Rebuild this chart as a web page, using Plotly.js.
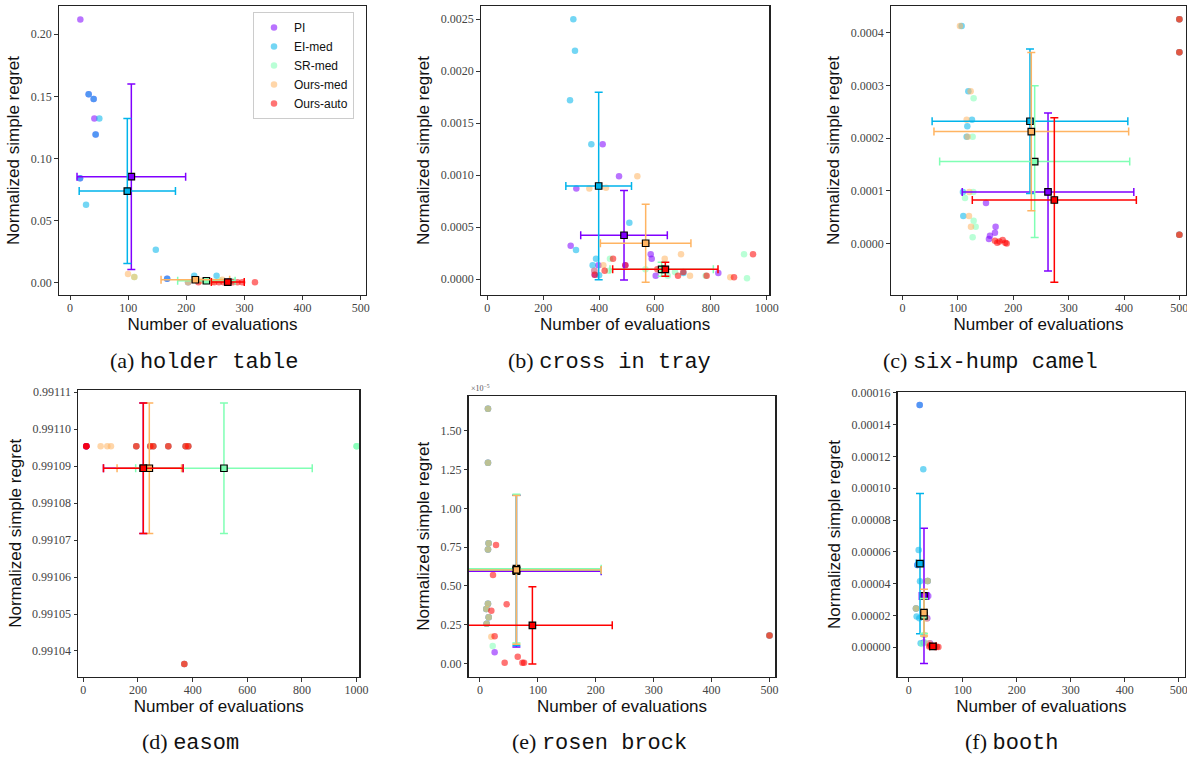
<!DOCTYPE html>
<html><head><meta charset="utf-8">
<script src="https://cdn.plot.ly/plotly-3.0.1.min.js"></script>
<style>html,body{margin:0;padding:0;background:#fff}#chart{width:1187px;height:757px}</style>
</head><body><div id="chart"></div>
<script>
// ---------------- DATA ----------------
const methods = ["PI", "EI-med", "SR-med", "Ours-med", "Ours-auto"];
const methodColors = ["#8000ff", "#00b4eb", "#80ffb4", "#ffb462", "#ff0000"];
const panelNames = ["holder table", "cross in tray", "six-hump camel", "easom", "rosen brock", "booth"];
const panelLetters = ["a", "b", "c", "d", "e", "f"];
const xTitle = "Number of evaluations";
const yTitle = "Normalized simple regret";

// (a) holder table  -- method index: 0 PI, 1 EI-med, 2 SR-med, 3 Ours-med, 4 Ours-auto
const holderX = [17.7, 41.8, 32, 40.6, 44, 17.2, 167, 203, 275,
                 32, 40.6, 44, 17.2, 167, 27.5, 50.4, 147.5, 213.5, 252,
                 110.5, 203, 232, 258, 280,
                 99.7, 110.5, 203, 225, 245, 262,
                 220.7, 248, 256, 264, 280, 288, 296, 318];
const holderY = [0.212, 0.132, 0.1516, 0.1478, 0.1193, 0.0839, 0.003, 0.0, 0.001,
                 0.1516, 0.1478, 0.1193, 0.0839, 0.003, 0.0626, 0.132, 0.0263, 0.0054, 0.0053,
                 0.0043, 0.0, 0.0008, 0.0015, 0.001,
                 0.0067, 0.0043, 0.0, 0.0012, 0.0005, 0.002,
                 0.0, 0.0, 0.0, 0.0, 0.0, 0.0, 0.0, 0.0];
const holderM = [0,0,0,0,0,0,0,0,0, 1,1,1,1,1,1,1,1,1,1, 2,2,2,2,2, 3,3,3,3,3,3, 4,4,4,4,4,4,4,4];
const holderMeanX = [105.4, 98.5, 234.5, 215.5, 271.3];
const holderMeanY = [0.0852, 0.0736, 0.0013, 0.0021, 0.0002];
const holderSdX = [93.4, 82.8, 49.4, 59, 28.3];
const holderSdY = [0.0748, 0.0585, 0.001, 0.0015, 0.0005];

// (b) cross in tray
const crossX = [412.9, 471.4, 318.6, 298.4, 397.5, 383, 384.4, 494, 584.8, 588.4, 602.7, 826.8,
                307.9, 313.8, 296, 372.3, 508.4, 317.5, 389, 377, 702, 400,
                439, 566, 645.7, 671.8, 781.6, 918.8, 929.5, 435,
                537, 365.2, 424.8, 415.3, 635, 693.3, 725.5, 869.7, 383,
                450, 420, 384.4, 494, 608.5, 682.5, 701.5, 785, 883, 951];
const crossY = [0.001297, 0.000989, 0.000871, 0.000323, 0.000134, 0.0000826, 0.0000442, 0.000134, 0.00024, 0.000198, 0.0000346, 0.00006,
                0.002497, 0.002196, 0.001719, 0.001297, 0.000544, 0.000281, 0.000198, 0.000134, 0.00006, 0.0000384,
                0.000198, 0.000096, 0.0000346, 0.00007, 0.0000346, 0.00024, 0.0000096, 0.0000826,
                0.000989, 0.000871, 0.00088, 0.000134, 0.000198, 0.00024, 0.0000346, 0.0000192, 0.0000826,
                0.000198, 0.0000826, 0.0000442, 0.000134, 0.000096, 0.0000346, 0.00007, 0.0000346, 0.0000192, 0.00024];
const crossM = [0,0,0,0,0,0,0,0,0,0,0,0, 1,1,1,1,1,1,1,1,1,1, 2,2,2,2,2,2,2,2, 3,3,3,3,3,3,3,3,3, 4,4,4,4,4,4,4,4,4,4];
const crossMeanX = [489.3, 398.6, 624, 566.8, 637.2];
const crossMeanY = [0.000423, 0.000896, 0.000096, 0.000346, 0.000096];
const crossSdX = [155, 117.5, 185, 162, 188.5];
const crossSdY = [0.00043, 0.0009, 0.000067, 0.000374, 0.000067];

// (c) six-hump camel
const camelX = [150.6, 168, 166.8, 157.8, 156, 500, 500, 500,
                106.6, 118.7, 125.3, 116.9, 115.7, 109, 109.6, 500, 500, 500,
                128.3, 126.5, 127.7, 112.7, 128.3, 132, 126.5, 500, 500, 500,
                103.6, 122.9, 115.7, 117.5, 120.5, 119.9, 123.5, 500, 500, 500,
                166.8, 171, 180.7, 185.5, 188, 175, 500, 500, 500];
const camelY = [0.0000772, 0.0000323, 0.0000209, 0.0000152, 0.0000089, 0.000426, 0.000363, 0.0000171,
                0.000413, 0.000289, 0.000235, 0.000223, 0.000203, 0.0000981, 0.0000525, 0.000426, 0.000363, 0.0000171,
                0.000276, 0.000203, 0.0000981, 0.0000867, 0.0000437, 0.0000323, 0.000012, 0.000426, 0.000363, 0.0000171,
                0.000413, 0.000289, 0.000235, 0.000203, 0.0000981, 0.0000525, 0.0000323, 0.000426, 0.000363, 0.0000171,
                0.0000057, 0.0000019, 0.000007, 0.0000019, 0.0000005, 0.000004, 0.000426, 0.000363, 0.0000171];
const camelM = [0,0,0,0,0,0,0,0, 1,1,1,1,1,1,1,1,1,1, 2,2,2,2,2,2,2,2,2,2, 3,3,3,3,3,3,3,3,3,3, 4,4,4,4,4,4,4,4,4];
const camelMeanX = [262.7, 230.1, 238.6, 232.5, 274.1];
const camelMeanY = [0.0000981, 0.0002323, 0.0001557, 0.0002127, 0.0000829];
const camelSdX = [155, 176.8, 171.7, 175.9, 148.2];
const camelSdY = [0.00015, 0.000137, 0.000144, 0.00015, 0.000156];

// (d) easom
const easomX = [11, 11, 11, 193.9, 245, 256, 311, 374.4, 384, 369.5,
                193.9, 245, 256, 311, 374.4, 384, 369.5, 1000, 1000, 1000,
                63.4, 87.8, 101.2, 193.9, 245, 256, 311, 374.4, 384, 369.5,
                11, 11, 11, 193.9, 245, 256, 311, 374.4, 384, 369.5];
const easomY = [0.9910954, 0.9910954, 0.9910954, 0.9910954, 0.9910954, 0.9910954, 0.9910954, 0.9910954, 0.9910954, 0.9910365,
                0.9910954, 0.9910954, 0.9910954, 0.9910954, 0.9910954, 0.9910954, 0.9910365, 0.9910954, 0.9910954, 0.9910954,
                0.9910954, 0.9910954, 0.9910954, 0.9910954, 0.9910954, 0.9910954, 0.9910954, 0.9910954, 0.9910954, 0.9910365,
                0.9910954, 0.9910954, 0.9910954, 0.9910954, 0.9910954, 0.9910954, 0.9910954, 0.9910954, 0.9910954, 0.9910365];
const easomM = [0,0,0,0,0,0,0,0,0,0, 2,2,2,2,2,2,2,2,2,2, 3,3,3,3,3,3,3,3,3,3, 4,4,4,4,4,4,4,4,4,4];
const easomMeanX = [219.5, null, 514.6, 241.5, 219.5];
const easomMeanY = [0.99108943, null, 0.99108943, 0.99108943, 0.99108943];
const easomSdX = [145.7, null, 323, 118, 145.7];
const easomSdY = [0.00001765, null, 0.00001765, 0.00001765, 0.00001765];

// (e) rosen brock
const rosenX = [13.8, 13.8, 14.9, 13.8, 13.8, 10.9, 15, 11.5, 25.3, 500,
                13.8, 13.8, 14.9, 13.8, 13.8, 10.9, 15, 11.5, 500,
                13.8, 13.8, 14.9, 13.8, 13.8, 10.9, 15, 11.5, 21.9, 500,
                13.8, 13.8, 14.9, 13.8, 13.8, 10.9, 15, 11.5, 19.6, 500,
                27.7, 22.5, 19.6, 46.1, 25.3, 42.6, 65.2, 73.2, 76.1, 500];
const rosenY = [1.644e-5, 1.295e-5, 0.775e-5, 0.734e-5, 0.385e-5, 0.35e-5, 0.297e-5, 0.256e-5, 0.071e-5, 0.179e-5,
                1.644e-5, 1.295e-5, 0.775e-5, 0.734e-5, 0.385e-5, 0.35e-5, 0.297e-5, 0.256e-5, 0.179e-5,
                1.644e-5, 1.295e-5, 0.775e-5, 0.734e-5, 0.385e-5, 0.35e-5, 0.297e-5, 0.256e-5, 0.112e-5, 0.179e-5,
                1.644e-5, 1.295e-5, 0.775e-5, 0.734e-5, 0.385e-5, 0.35e-5, 0.297e-5, 0.256e-5, 0.172e-5, 0.179e-5,
                0.764e-5, 0.57e-5, 0.339e-5, 0.381e-5, 0.174e-5, 0.004e-5, 0.043e-5, 0.004e-5, 0.004e-5, 0.179e-5];
const rosenM = [0,0,0,0,0,0,0,0,0,0, 1,1,1,1,1,1,1,1,1, 2,2,2,2,2,2,2,2,2,2, 3,3,3,3,3,3,3,3,3,3, 4,4,4,4,4,4,4,4,4,4];
const rosenMeanX = [62.9, 62.9, 62.9, 62.9, 90.5];
const rosenMeanY = [0.595e-5, 0.600e-5, 0.611e-5, 0.603e-5, 0.245e-5];
const rosenSdX = [146.4, 146.4, 146.4, 146.4, 137.9];
const rosenSdY = [0.49e-5, 0.485e-5, 0.48e-5, 0.48e-5, 0.25e-5];
const rosenTickText = ["0.00", "0.25", "0.50", "0.75", "1.00", "1.25", "1.50"];

// (f) booth
const boothX = [20.3, 16, 36.2, 34.4, 13.5, 35, 39.3, 28,
                20.3, 27, 18.4, 16, 20.9, 14.7, 19.7, 22.1, 13.5, 35,
                13.5, 35, 28, 30, 25,
                13.5, 35, 38, 30, 33,
                38, 42, 45, 48, 52, 55, 40];
const boothY = [0.0001523, 0.0000517, 0.0000323, 0.0000182, 0.0000243, 0.0000417, 0.0000025, 0.000003,
                0.0001523, 0.000112, 0.0000611, 0.0000517, 0.0000415, 0.0000193, 0.0000182, 0.0000025, 0.0000243, 0.0000417,
                0.0000243, 0.0000417, 0.0000077, 0.000003, 0.000002,
                0.0000243, 0.0000417, 0.0000025, 0.0000077, 0.000018,
                0.0000005, 0.0000003, 0.0000008, 0.0000002, 0.0000004, 0.0000002, 0.0000012];
const boothM = [0,0,0,0,0,0,0,0, 1,1,1,1,1,1,1,1,1,1, 2,2,2,2,2, 3,3,3,3,3, 4,4,4,4,4,4,4];
const boothMeanX = [28.3, 20.9, 28.3, 28.3, 44.8];
const boothMeanY = [0.0000323, 0.0000526, 0.0000197, 0.0000218, 0.0000006];
const boothSdX = [8.6, 7, 4, 5, 6];
const boothSdY = [0.0000425, 0.0000441, 0.000011, 0.0000147, 0.0000005];

// ---------------- LAYOUT HELPERS ----------------
const W = 1187, H = 757;
// plot frames in pixels: [left, right, top, bottom]
const frames = [
  [59, 366, 6, 295], [481, 769.3, 6, 295], [891, 1186, 6, 295],
  [78.3, 359.3, 390, 676.7], [468.7, 775.3, 396, 676.7], [897.7, 1185, 392.3, 676.7]
];
const xRanges = [[-19, 509], [-22.6, 1009.3], [-21, 512], [-18.3, 1009.8], [-19.5, 510], [-20.4, 511.7]];
const yRanges = [[-0.0102, 0.2228], [-0.000151, 0.002625], [-0.0000974, 0.000451],
                 [0.99103304, 0.9911106], [-0.0865e-5, 1.7257e-5], [-0.0000185, 0.0001603]];
const xDticks = [100, 200, 100, 200, 100, 100];
const yTickCfg = [
  {dtick: 0.05, tickformat: ".2f"},
  {dtick: 0.0005, tickformat: ".4f"},
  {dtick: 0.0001, tickformat: ".4f"},
  {tick0: 0.99104, dtick: 0.00001, tickformat: ".5f"},
  {tickmode: "array", tickvals: rosenTickText.map(t => parseFloat(t) * 1e-5), ticktext: rosenTickText},
  {dtick: 0.00002, tickformat: ".5f"}
];
const captionPos = [[204, 361], [610, 361], [991, 361], [190, 742], [600, 742], [1012, 742]];

const panels = [
  [holderX, holderY, holderM, holderMeanX, holderMeanY, holderSdX, holderSdY],
  [crossX, crossY, crossM, crossMeanX, crossMeanY, crossSdX, crossSdY],
  [camelX, camelY, camelM, camelMeanX, camelMeanY, camelSdX, camelSdY],
  [easomX, easomY, easomM, easomMeanX, easomMeanY, easomSdX, easomSdY],
  [rosenX, rosenY, rosenM, rosenMeanX, rosenMeanY, rosenSdX, rosenSdY],
  [boothX, boothY, boothM, boothMeanX, boothMeanY, boothSdX, boothSdY]
];

const traces = [];
const layout = {
  width: W, height: H,
  margin: {l: 0, r: 0, t: 0, b: 0},
  paper_bgcolor: "#fff", plot_bgcolor: "#fff",
  showlegend: true,
  legend: {
    x: 253 / W, y: 1 - 12 / H, xanchor: "left", yanchor: "top",
    bgcolor: "rgba(255,255,255,0.9)", bordercolor: "#cccccc", borderwidth: 1,
    font: {family: "Liberation Sans, Arial, sans-serif", size: 12, color: "#111"},
    itemwidth: 30, tracegroupgap: 0
  },
  annotations: []
};

const tickFont = {family: "Liberation Serif, Times New Roman, serif", size: 12, color: "#444"};
const titleFont = {family: "Liberation Sans, Arial, sans-serif", size: 17, color: "#111"};

panels.forEach((p, i) => {
  const [px, py, pm, mx, my, sx, sy] = p;
  const n = i + 1;
  const xa = "x" + (n === 1 ? "" : n), ya = "y" + (n === 1 ? "" : n);
  const f = frames[i];
  const axX = {
    domain: [f[0] / W, f[1] / W], range: xRanges[i], anchor: ya,
    showline: true, mirror: true, linecolor: "#222", linewidth: 1.3,
    showgrid: false, zeroline: false, ticks: "outside", ticklen: 3.5, tickwidth: 1, tickcolor: "#333",
    dtick: xDticks[i], tick0: 0, tickfont: tickFont, ticklabeloverflow: "allow", ticklabelstandoff: -2,
    title: {text: xTitle, font: titleFont, standoff: 0}
  };
  const axY = Object.assign({
    domain: [1 - f[3] / H, 1 - f[2] / H], range: yRanges[i], anchor: xa,
    showline: true, mirror: true, linecolor: "#222", linewidth: 1.3,
    showgrid: false, zeroline: false, ticks: "outside", ticklen: 3.5, tickwidth: 1, tickcolor: "#333",
    tickfont: tickFont,
    title: {text: yTitle, font: titleFont, standoff: 6}
  }, yTickCfg[i]);
  layout["xaxis" + (n === 1 ? "" : n)] = axX;
  layout["yaxis" + (n === 1 ? "" : n)] = axY;

  // scatter of individual runs
  methods.forEach((m, k) => {
    const xs = [], ys = [];
    pm.forEach((mm, j) => { if (mm === k) { xs.push(px[j]); ys.push(py[j]); } });
    traces.push({
      type: "scatter", mode: "markers", x: xs, y: ys, xaxis: xa, yaxis: ya,
      name: m, legendgroup: m, showlegend: i === 0,
      marker: {color: methodColors[k], size: 6.5, opacity: 0.55, line: {width: 0}},
      hoverinfo: "x+y+name"
    });
  });
  // mean with std error bars
  methods.forEach((m, k) => {
    if (mx[k] === null) return;
    traces.push({
      type: "scatter", mode: "markers", x: [mx[k]], y: [my[k]], xaxis: xa, yaxis: ya,
      name: m + " mean", legendgroup: m, showlegend: false,
      marker: {symbol: "square", color: methodColors[k], size: 6.5, line: {color: "#000", width: 1.2}},
      error_x: {type: "data", array: [sx[k]], color: methodColors[k], thickness: 1.5, width: 4},
      error_y: {type: "data", array: [sy[k]], color: methodColors[k], thickness: 1.5, width: 4}
    });
  });

  // caption
  layout.annotations.push({
    xref: "paper", yref: "paper", x: captionPos[i][0] / W, y: 1 - captionPos[i][1] / H,
    xanchor: "center", yanchor: "middle", showarrow: false,
    text: "(" + panelLetters[i] + ") <span style=\"font-family:'Liberation Mono', 'Courier New', monospace\">" + panelNames[i] + "</span>",
    font: {family: "Liberation Serif, Times New Roman, serif", size: 22, color: "#111"}
  });
});

// exponent label for rosen brock
layout.annotations.push({
  xref: "paper", yref: "paper", x: 469 / W, y: 1 - 395 / H, xanchor: "left", yanchor: "bottom",
  showarrow: false, text: "×10<sup>−5</sup>",
  font: {family: "Liberation Serif, Times New Roman, serif", size: 8, color: "#555"}
});

Plotly.newPlot("chart", traces, layout, {displayModeBar: false, staticPlot: true});
</script>
</body></html>
